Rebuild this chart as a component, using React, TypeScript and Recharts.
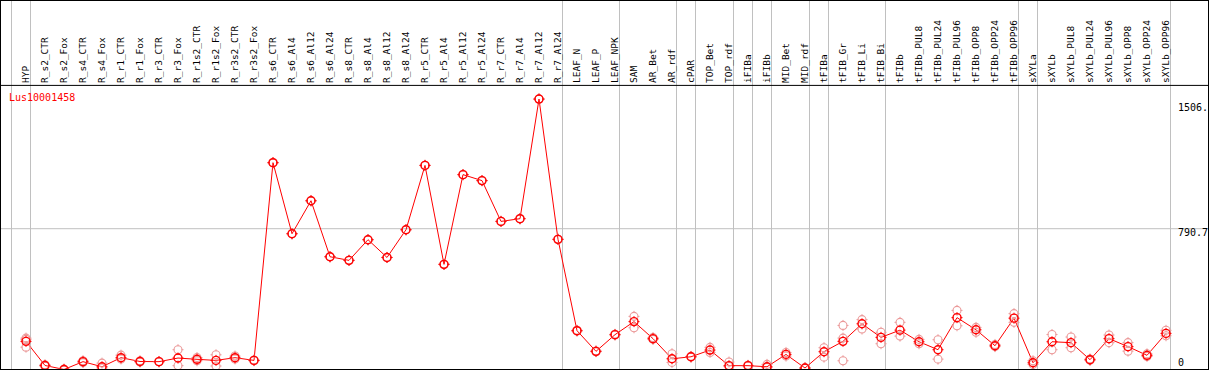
import React from 'react';
import { ComposedChart, Line, XAxis, YAxis, ReferenceLine } from 'recharts';

const categories = [
  'HYP', 'R_s2_CTR', 'R_s2_Fox', 'R_s4_CTR', 'R_s4_Fox', 'R_r1_CTR', 'R_r1_Fox', 'R_r3_CTR', 'R_r3_Fox',
  'R_r1s2_CTR', 'R_r1s2_Fox', 'R_r3s2_CTR', 'R_r3s2_Fox', 'R_s6_CTR', 'R_s6_Al4', 'R_s6_Al12', 'R_s6_Al24',
  'R_s8_CTR', 'R_s8_Al4', 'R_s8_Al12', 'R_s8_Al24', 'R_r5_CTR', 'R_r5_Al4', 'R_r5_Al12', 'R_r5_Al24',
  'R_r7_CTR', 'R_r7_Al4', 'R_r7_Al12', 'R_r7_Al24', 'LEAF_N', 'LEAF_P', 'LEAF_NPK', 'SAM', 'AR_Bet', 'AR_rdf',
  'cPAR', 'TOP_Bet', 'TOP_rdf', 'iFIBa', 'iFIBb', 'MID_Bet', 'MID_rdf', 'tFIBa', 'tFIB_Gr', 'tFIB_Li', 'tFIB_Bi',
  'tFIBb', 'tFIBb_PUL8', 'tFIBb_PUL24', 'tFIBb_PUL96', 'tFIBb_OPP8', 'tFIBb_OPP24', 'tFIBb_OPP96',
  'sXYLa', 'sXYLb', 'sXYLb_PUL8', 'sXYLb_PUL24', 'sXYLb_PUL96', 'sXYLb_OPP8', 'sXYLb_OPP24', 'sXYLb_OPP96',
];

const meanValues = [
  169, 36, 14, 57, 29, 79, 58, 57, 77, 70, 64, 79, 64,
  1155, 763, 945, 636, 616, 730, 632, 785, 1140, 594, 1089, 1056, 831, 846, 1506, 732,
  228, 114, 206, 278, 184, 73, 84, 121, 35, 35, 29, 97, 22, 112,
  169, 266, 191, 231, 167, 123, 300, 233, 145, 297,
  51, 167, 162, 68, 184, 140, 92, 213,
];

const repHigh = [
  187, 40, 16, 62, 49, 93, 62, 58, 123, 80, 95, 88, 66,
  1155, 763, 945, 636, 616, 730, 632, 785, 1140, 594, 1089, 1056, 831, 846, 1506, 732,
  230, 116, 208, 307, 190, 101, 86, 136, 55, 37, 42, 108, 24, 134,
  257, 289, 219, 274, 180, 178, 340, 246, 152, 322,
  62, 207, 193, 72, 204, 162, 100, 230,
];

const repLow = [
  137, 32, 12, 52, 22, 72, 55, 56, 35, 62, 33, 72, 62,
  1155, 763, 945, 636, 616, 730, 632, 785, 1140, 594, 1089, 1056, 831, 846, 1506, 732,
  226, 112, 204, 244, 180, 53, 82, 108, 30, 33, 25, 88, 20, 82,
  62, 237, 156, 198, 156, 71, 255, 219, 140, 274,
  42, 123, 134, 64, 162, 115, 86, 200,
];

const repExtra: (number | null)[] = categories.map((c) =>
  c === 'HYP' ? 180 : c === 'tFIB_Gr' ? 187 : null
);

// categories after which a gray separator is drawn ('' = before the first)
const groupEnds = ['', 'HYP', 'R_r7_Al24', 'LEAF_NPK', 'AR_rdf', 'cPAR', 'TOP_rdf', 'iFIBa', 'iFIBb',
  'MID_rdf', 'tFIBa', 'tFIB_Bi', 'tFIBb_OPP96', 'sXYLa', 'sXYLb_OPP96'];

const seriesName = 'Lus10001458';
const seriesMaxLabel = '1506.';
const midLabel = '790.7';
const zeroLabel = '0';

const SERIES_MAX = 1506.1;
const Y_TOP = SERIES_MAX * 1.05;
const Y_MID = Y_TOP / 2;

const W = 1209;
const H = 372;
const FIRST_X = 26;
const STEP = 19;
const PLOT_TOP_PX = 85.4;
const Y_DOMAIN_TOP = (Y_TOP * H) / (H - PLOT_TOP_PX);
const X_DOMAIN: [number, number] = [-FIRST_X / STEP, (W - FIRST_X) / STEP];
const SEP_OFFSET = 4.5 / STEP;

const data = categories.map((name, i) => ({
  idx: i,
  name,
  mean: meanValues[i],
  repHigh: repHigh[i],
  repLow: repLow[i],
  repExtra: repExtra[i],
}));

const MONO = '"DejaVu Sans Mono", "Liberation Mono", monospace';

const Marker = (color: string, width: number) => (props: any) => {
  const { cx, cy, index } = props;
  if (cx == null || cy == null || props.value == null) return <g key={`e${index}`} />;
  const r = 4;
  return (
    <g key={`m${index}`}>
      <circle cx={cx} cy={cy} r={r} stroke={color} strokeWidth={width} fill="none" />
      <line x1={cx} y1={cy - r - 1.5} x2={cx} y2={cy - r + 0.5} stroke={color} strokeWidth={1} />
      <line x1={cx} y1={cy + r - 0.5} x2={cx} y2={cy + r + 1.5} stroke={color} strokeWidth={1} />
      <line x1={cx - r - 1.5} y1={cy} x2={cx - r + 0.5} y2={cy} stroke={color} strokeWidth={1} />
      <line x1={cx + r - 0.5} y1={cy} x2={cx + r + 1.5} y2={cy} stroke={color} strokeWidth={1} />
    </g>
  );
};

const renderCategoryTick = (props: any) => {
  const { x, payload, index } = props;
  const name = categories[payload.value];
  if (!name) return <g key={`t${index}`} />;
  return (
    <text
      key={`t${index}`}
      transform={`translate(${x},83) rotate(-90)`}
      x={0}
      y={0}
      dy="0.36em"
      textAnchor="start"
      fontFamily={MONO}
      fontSize={9.5}
      fill="#000"
    >
      {name}
    </text>
  );
};

const rightLabel = (text: string, dy: number, clampBottom?: number) => (props: any) => {
  const vb = props.viewBox || {};
  let y = (vb.y ?? 0) + dy;
  if (clampBottom != null) y = Math.min(y, clampBottom);
  return (
    <text x={(vb.x ?? 0) + (vb.width ?? 0) - 31} y={y} fontFamily={MONO} fontSize={10} fill="#000">
      {text}
    </text>
  );
};

const seriesLabel = (props: any) => {
  const vb = props.viewBox || {};
  return (
    <text x={(vb.x ?? 0) + 9} y={(vb.y ?? 0) + 15.5} fontFamily={MONO} fontSize={10} fill="#ff0000">
      {seriesName}
    </text>
  );
};

export default function App() {
  const separators = groupEnds.map((c) => (c === '' ? -1 : categories.indexOf(c)) + SEP_OFFSET);
  return (
    <div
      style={{
        position: 'absolute',
        left: 0,
        top: 0,
        width: W,
        height: 370,
        overflow: 'hidden',
        border: '1px solid #000',
        boxSizing: 'border-box',
        background: '#fff',
      }}
    >
      <div style={{ position: 'absolute', left: -1, top: -1 }}>
        <ComposedChart width={W} height={H} data={data} margin={{ top: -1, right: 0, bottom: 0, left: 0 }}>
          <XAxis
            dataKey="idx"
            type="number"
            orientation="top"
            height={1}
            domain={X_DOMAIN}
            allowDataOverflow
            ticks={categories.map((_, i) => i)}
            interval={0}
            axisLine={false}
            tickLine={false}
            tick={renderCategoryTick}
          />
          <YAxis hide type="number" domain={[0, Y_DOMAIN_TOP]} allowDataOverflow />
          {separators.map((x) => (
            <ReferenceLine key={`s${x}`} x={x} stroke="#c0c0c0" strokeWidth={1} />
          ))}
          <ReferenceLine y={Y_MID} stroke="#c0c0c0" strokeWidth={1} label={rightLabel(midLabel, 7.5)} />
          <ReferenceLine y={SERIES_MAX} stroke="none" label={rightLabel(seriesMaxLabel, 12)} />
          <ReferenceLine y={0} stroke="none" label={rightLabel(zeroLabel, 0, 366)} />
          <ReferenceLine y={Y_TOP} stroke="#000" strokeWidth={1} label={seriesLabel} />
          <Line dataKey="repExtra" stroke="none" isAnimationActive={false} dot={Marker('#eb9a9a', 1.1)} activeDot={false} />
          <Line dataKey="repHigh" stroke="none" isAnimationActive={false} dot={Marker('#eb9a9a', 1.1)} activeDot={false} />
          <Line dataKey="repLow" stroke="none" isAnimationActive={false} dot={Marker('#eb9a9a', 1.1)} activeDot={false} />
          <Line
            dataKey="mean"
            stroke="#ff0000"
            strokeWidth={1}
            isAnimationActive={false}
            dot={Marker('#ff0000', 1.4)}
            activeDot={false}
          />
        </ComposedChart>
      </div>
    </div>
  );
}
